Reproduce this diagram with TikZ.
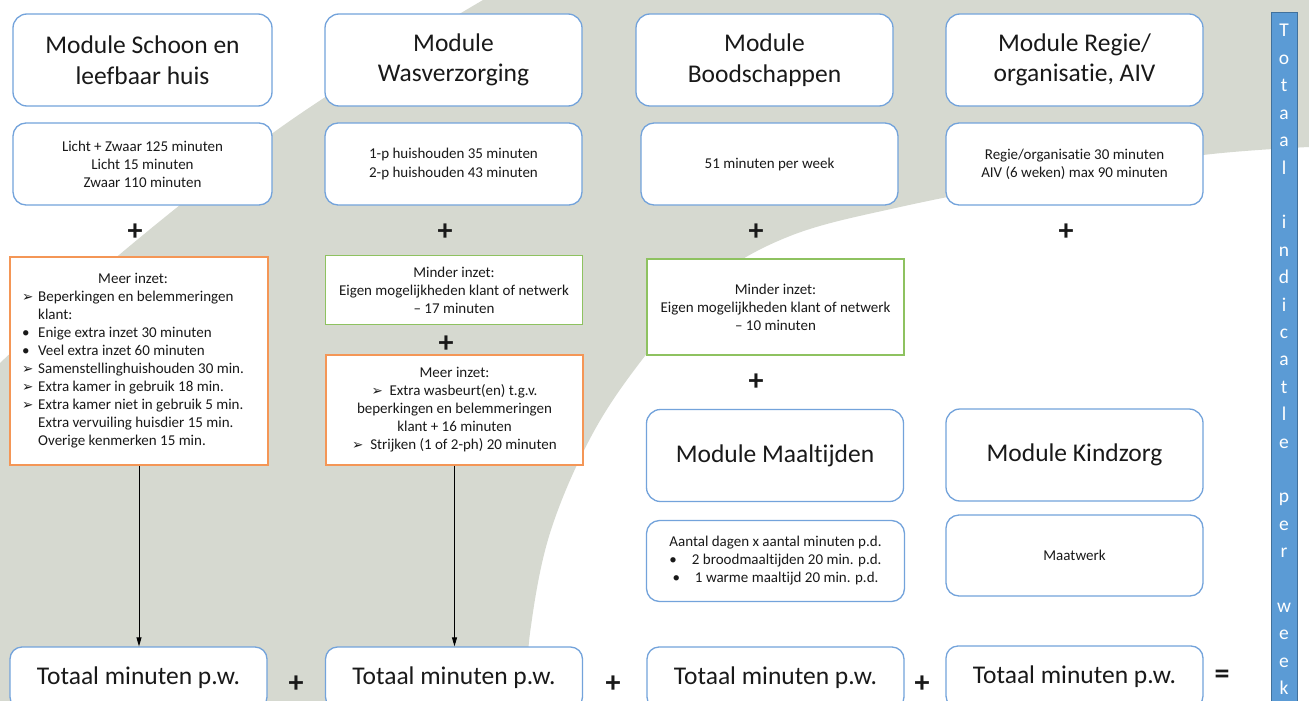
\documentclass[tikz,border=0pt]{standalone}
\usepackage{fontspec}
\setmainfont{Carlito}[Ligatures=CommonOff]
\newfontfamily\dejavu{DejaVu Sans}
\usetikzlibrary{arrows.meta}
\definecolor{bggray}{RGB}{214,217,208}
\definecolor{boxblue}{RGB}{115,163,219}
\definecolor{boxorange}{RGB}{244,150,86}
\definecolor{boxgreen}{RGB}{142,194,96}
\definecolor{barblue}{RGB}{91,155,213}
\definecolor{barborder}{RGB}{65,113,156}
\definecolor{txt}{RGB}{25,25,25}
\newcommand\headfnt{\fontsize{25.5}{30.5}\selectfont}
\newcommand\smallfnt{\fontsize{15}{18}\selectfont}
\newcommand\barfnt{\fontsize{19.5}{20}\selectfont}
\newcommand\plusfnt{\fontsize{30}{30}\selectfont\bfseries}
\newcommand\arrmark{{\dejavu\fontsize{13.5}{18}\selectfont ➢}}
\begin{document}
\begin{tikzpicture}[x=1pt,y=-1pt,
  modbox/.style={draw=boxblue, line width=1.3pt, fill=white, rounded corners=14pt,
    inner sep=0pt, align=center, font=\headfnt, text=txt},
  infobox/.style={draw=boxblue, line width=1.3pt, fill=white, rounded corners=13pt,
    inner sep=0pt, align=center, font=\smallfnt, text=txt},
  orangebox/.style={draw=boxorange, line width=1.4pt, fill=white,
    inner sep=0pt, align=center, font=\smallfnt, text=txt},
  greenbox/.style={draw=boxgreen, line width=1.4pt, fill=white,
    inner sep=0pt, align=center, font=\smallfnt, text=txt},
  plusnode/.style={inner sep=0pt, font=\plusfnt, text=txt},
  barletter/.style={inner sep=0pt, anchor=base, font=\barfnt, text=white},
  arr/.style={draw=black, line width=0.9pt, -{Triangle[length=9pt,width=5pt]}}
]
\clip (0,0) rectangle (1309,701);
\fill[white] (0,0) rectangle (1309,701);
% background swoosh
\fill[bggray] (483,0) -- (1309,0) -- (1309,147)
  -- plot[smooth, tension=0.6] coordinates {(1309,147) (1203,155) (1050,178) (900,207) (790,236) (710,282) (648,352) (593,433) (550,533) (530,633) (527,701)}
  -- (0,701) -- (0,363)
  -- plot[smooth, tension=0.6] coordinates {(0,363) (90,280) (180,205) (277,130) (380,62) (483,0)} -- cycle;

% module headers
\node[modbox, minimum width=259, minimum height=92] (m1) at (142.5,60) {Module Schoon en\\leefbaar huis};
\node[modbox, minimum width=257, minimum height=92] (m2) at (453.5,60) {Module\\Wasverzorging};
\node[modbox, minimum width=257, minimum height=92] (m3) at (764.5,60) {Module\\Boodschappen};
\node[modbox, minimum width=257, minimum height=92] (m4) at (1074.5,60) {Module Regie/\\organisatie, AIV};

% info boxes
\node[infobox, minimum width=259, minimum height=82] (i1) at (142.5,164) {Licht + Zwaar 125 minuten\\Licht 15 minuten\\Zwaar 110 minuten};
\node[infobox, minimum width=257, minimum height=82] (i2) at (453.5,164) {1-p huishouden 35 minuten\\2-p huishouden 43 minuten};
\node[infobox, minimum width=257, minimum height=82] (i3) at (769.5,164) {51 minuten per week};
\node[infobox, minimum width=257, minimum height=82] (i4) at (1074.5,164) {Regie/organisatie 30 minuten\\AIV (6 weken) max 90 minuten};

% plus signs row
\node[plusnode] (p1) at (135,232) {+};
\node[plusnode] (p2) at (445,232) {+};
\node[plusnode] (p3) at (756,232) {+};
\node[plusnode] (p4) at (1066,232) {+};

% orange box A
\node[orangebox, minimum width=258, minimum height=208] (o1) at (139,361) {};
\node[anchor=west, inner sep=0pt, font=\smallfnt, text=txt] (o1t) at (22,361) {%
\begin{tabular}{@{}p{16pt}@{}l@{}}
\multicolumn{2}{@{}c@{}}{Meer inzet:}\\
\arrmark & Beperkingen en belemmeringen\\
 & klant:\\
\textbullet & Enige extra inzet 30 minuten\\
\textbullet & Veel extra inzet 60 minuten\\
\arrmark & Samenstellinghuishouden 30 min.\\
\arrmark & Extra kamer in gebruik 18 min.\\
\arrmark & Extra kamer niet in gebruik 5 min.\\
 & Extra vervuiling huisdier 15 min.\\
 & Overige kenmerken 15 min.
\end{tabular}};

% column B extras
\node[greenbox, minimum width=257, minimum height=69] (g1) at (454,290) {Minder inzet:\\Eigen mogelijkheden klant of netwerk\\– 17 minuten};
\node[plusnode] (p5) at (446,344) {+};
\node[orangebox, minimum width=257, minimum height=110] (o2) at (454.5,410) {Meer inzet:\\\arrmark\ \ Extra wasbeurt(en) t.g.v.\\beperkingen en belemmeringen\\klant + 16 minuten\\\arrmark\ \ Strijken (1 of 2-ph) 20 minuten};

% column C extras
\node[greenbox, minimum width=257, minimum height=96] (g2) at (775.5,307) {Minder inzet:\\Eigen mogelijkheden klant of netwerk\\– 10 minuten};
\node[plusnode] (p6) at (756,382) {+};
\node[modbox, minimum width=257, minimum height=92] (m5) at (775,455.5) {Module Maaltijden};
\node[infobox, minimum width=258, minimum height=81] (i5) at (775.5,561) {Aantal dagen x aantal minuten p.d.\\\textbullet\quad 2 broodmaaltijden 20 min. p.d.\\\textbullet\quad 1 warme maaltijd 20 min. p.d.};

% column D extras
\node[modbox, minimum width=257, minimum height=92] (m6) at (1074.5,455) {Module Kindzorg};
\node[infobox, minimum width=257, minimum height=81] (i6) at (1074.5,555.5) {Maatwerk};

% totals
\node[modbox, rounded corners=12pt, minimum width=257, minimum height=62] (t1) at (138.5,678) {Totaal minuten p.w.};
\node[modbox, rounded corners=12pt, minimum width=257, minimum height=62] (t2) at (454,678) {Totaal minuten p.w.};
\node[modbox, rounded corners=12pt, minimum width=257, minimum height=62] (t3) at (775.5,678) {Totaal minuten p.w.};
\node[modbox, rounded corners=12pt, minimum width=257, minimum height=62] (t4) at (1074.5,677) {Totaal minuten p.w.};
\node[plusnode] (p7) at (296,684) {+};
\node[plusnode] (p8) at (613,684) {+};
\node[plusnode] (p9) at (922,684) {+};
\node[plusnode] (eq) at (1222,677) {=};

% arrows
\draw[arr] (o1.south) -- (o1.south |- t1.north);
\draw[arr] (o2.south) -- (o2.south |- t2.north);

% vertical bar
\node[fill=barblue, draw=barborder, line width=0.8pt, minimum width=26, minimum height=700, inner sep=0pt, anchor=north] (bar) at (1284,12) {};
\foreach \i/\c in {0/T,1/o,2/t,3/a,4/a,5/l,7/i,8/n,9/d,10/i,11/c,12/a,13/t,14/l,15/e,17/p,18/e,19/r,21/w,22/e,23/e,24/k}
  \node[barletter] (bl\i) at (1284,{37+27.4*\i}) {\c};
\end{tikzpicture}
\end{document}
